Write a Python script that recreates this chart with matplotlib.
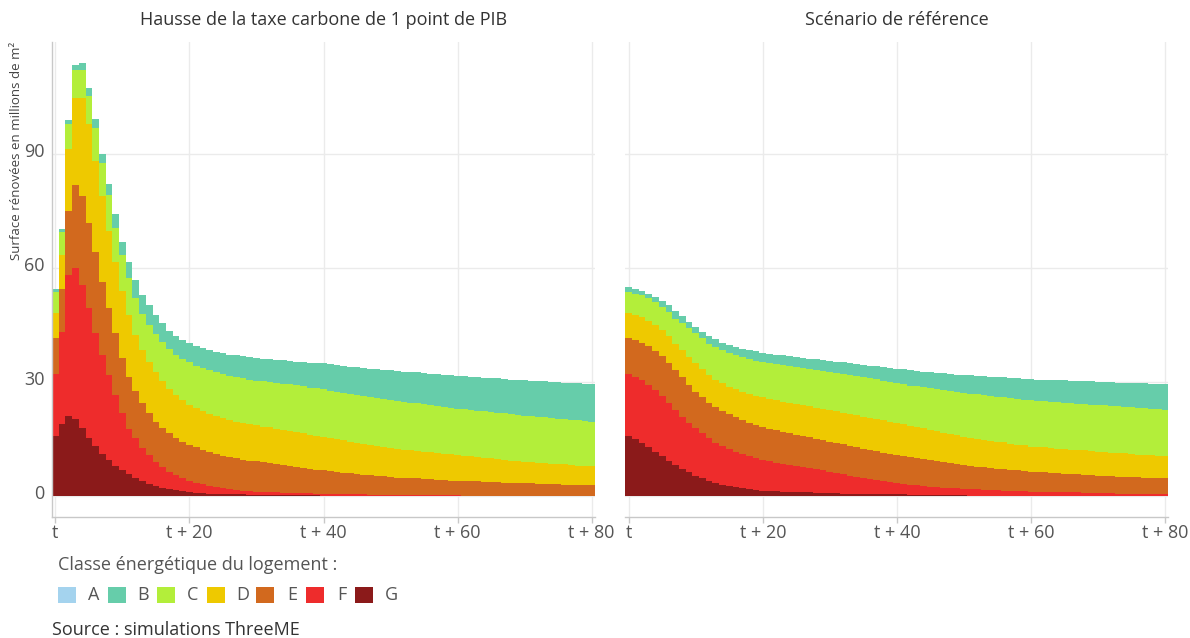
import matplotlib
matplotlib.use('Agg')
import matplotlib.pyplot as plt
from matplotlib.patches import Rectangle
from matplotlib.transforms import ScaledTranslation
import numpy as np

plt.rcParams['font.family'] = ['Open Sans', 'DejaVu Sans']

# ---------------- data ----------------
years = list(range(81))
xtick_pos = [0, 20, 40, 60, 80]
xtick_labels = ['t', 't + 20', 't + 40', 't + 60', 't + 80']
ytick_pos = [0, 30, 60, 90]
classes = ['A', 'B', 'C', 'D', 'E', 'F', 'G']
titles = ['Hausse de la taxe carbone de 1 point de PIB', 'Scénario de référence']

# Scenario 1: carbon tax increase
tax_G = [15.7, 19.0, 21.0, 20.1, 17.8, 15.3, 13.1, 10.9, 9.3, 7.8,
         6.6, 5.8, 4.6, 3.8, 3.0, 2.4, 1.9, 1.6, 1.4, 1.1,
         0.9, 0.7, 0.6, 0.5, 0.5, 0.4, 0.4, 0.3, 0.3, 0.2,
         0.2, 0.15, 0.15, 0.1, 0.1, 0.1, 0.05, 0.05, 0.05, 0.05,
         0, 0, 0, 0, 0, 0, 0, 0, 0, 0,
         0, 0, 0, 0, 0, 0, 0, 0, 0, 0,
         0, 0, 0, 0, 0, 0, 0, 0, 0, 0,
         0, 0, 0, 0, 0, 0, 0, 0, 0, 0,
         0]
tax_F = [16.4, 24.2, 37.3, 39.8, 37.8, 34.3, 29.8, 26.2, 22.5, 18.7,
         15.1, 11.8, 10.7, 8.7, 7.7, 6.5, 5.7, 4.7, 4.0, 3.5,
         3.0, 2.7, 2.4, 2.0, 1.7, 1.5, 1.3, 1.1, 1.0, 0.9,
         0.8, 0.75, 0.7, 0.7, 0.65, 0.6, 0.6, 0.55, 0.5, 0.45,
         0.45, 0.4, 0.4, 0.35, 0.35, 0.3, 0.3, 0.25, 0.2, 0.2,
         0.15, 0.15, 0.1, 0.1, 0.1, 0.1, 0.05, 0.05, 0.05, 0.05,
         0.05, 0, 0, 0, 0, 0, 0, 0, 0, 0,
         0, 0, 0, 0, 0, 0, 0, 0, 0, 0,
         0]
tax_E = [9.4, 11.2, 16.7, 22.0, 23.4, 22.2, 21.4, 19.3, 17.6, 16.3,
         14.5, 13.7, 12.3, 11.8, 11.0, 10.6, 10.1, 10.1, 9.8, 9.6,
         9.5, 9.3, 9.1, 9.0, 8.8, 8.6, 8.4, 8.4, 8.2, 8.1,
         8.0, 7.9, 7.7, 7.5, 7.3, 7.1, 6.9, 6.7, 6.5, 6.3,
         6.2, 6.0, 5.8, 5.7, 5.5, 5.4, 5.2, 5.1, 5.0, 4.9,
         4.8, 4.6, 4.6, 4.5, 4.4, 4.3, 4.2, 4.1, 4.0, 3.9,
         3.8, 3.8, 3.7, 3.7, 3.6, 3.6, 3.5, 3.4, 3.4, 3.3,
         3.2, 3.2, 3.1, 3.1, 3.0, 3.0, 2.9, 2.9, 2.9, 2.8,
         2.8]
tax_D = [6.6, 9.1, 16.3, 23.1, 26.0, 26.2, 24.0, 22.5, 20.5, 18.7,
         17.8, 16.3, 14.7, 14.1, 13.6, 13.0, 12.5, 11.8, 11.3, 10.9,
         10.6, 10.3, 10.1, 10.0, 9.9, 9.9, 9.8, 9.7, 9.6, 9.6,
         9.5, 9.4, 9.4, 9.3, 9.3, 9.2, 9.2, 9.1, 9.0, 9.0,
         8.9, 8.8, 8.7, 8.5, 8.3, 8.2, 8.1, 7.9, 7.8, 7.6,
         7.6, 7.5, 7.4, 7.3, 7.3, 7.2, 7.1, 7.0, 6.9, 6.9,
         6.8, 6.7, 6.6, 6.4, 6.4, 6.2, 6.1, 6.0, 5.8, 5.8,
         5.7, 5.6, 5.6, 5.4, 5.4, 5.3, 5.3, 5.2, 5.0, 5.0,
         4.9]
tax_C = [5.7, 5.9, 6.6, 7.4, 7.4, 7.4, 8.6, 8.9, 9.4, 9.2,
         9.5, 9.9, 9.7, 9.4, 9.7, 10.1, 10.2, 10.4, 10.6, 10.9,
         11.1, 11.3, 11.4, 11.5, 11.6, 11.6, 11.7, 11.7, 11.8, 11.8,
         11.8, 11.9, 12.0, 12.1, 12.2, 12.3, 12.3, 12.4, 12.4, 12.5,
         12.5, 12.5, 12.5, 12.6, 12.6, 12.6, 12.6, 12.7, 12.7, 12.8,
         12.7, 12.7, 12.7, 12.6, 12.5, 12.5, 12.5, 12.4, 12.4, 12.3,
         12.3, 12.3, 12.3, 12.3, 12.2, 12.2, 12.3, 12.3, 12.3, 12.2,
         12.2, 12.2, 12.1, 12.1, 12.1, 12.0, 12.0, 11.9, 11.9, 11.9,
         11.8]
tax_B = [0.8, 0.8, 1.1, 1.2, 1.6, 2.2, 2.4, 2.4, 2.8, 3.5,
         3.5, 4.2, 4.9, 5.1, 5.2, 5.0, 5.0, 4.9, 4.9, 5.0,
         5.1, 5.1, 5.2, 5.4, 5.4, 5.5, 5.6, 5.8, 5.8, 5.9,
         6.0, 6.0, 6.1, 6.1, 6.1, 6.2, 6.3, 6.4, 6.5, 6.6,
         6.8, 6.9, 7.0, 7.1, 7.2, 7.3, 7.5, 7.5, 7.6, 7.7,
         7.8, 7.9, 7.9, 8.1, 8.2, 8.3, 8.3, 8.5, 8.5, 8.6,
         8.6, 8.7, 8.8, 8.8, 8.9, 9.0, 9.0, 9.1, 9.1, 9.2,
         9.3, 9.3, 9.4, 9.5, 9.5, 9.6, 9.6, 9.7, 9.8, 9.8,
         9.9]

# Scenario 2: reference
ref_G = [15.7, 14.8, 13.8, 12.7, 11.6, 10.4, 9.2, 8.0, 7.0, 6.1,
         5.2, 4.5, 3.9, 3.4, 2.9, 2.6, 2.2, 1.9, 1.7, 1.5,
         1.3, 1.2, 1.1, 1.0, 0.9, 0.9, 0.8, 0.8, 0.7, 0.7,
         0.6, 0.6, 0.5, 0.5, 0.5, 0.4, 0.4, 0.4, 0.3, 0.3,
         0.3, 0.3, 0.2, 0.2, 0.2, 0.2, 0.2, 0.1, 0.1, 0.05,
         0.05, 0, 0, 0, 0, 0, 0, 0, 0, 0,
         0, 0, 0, 0, 0, 0, 0, 0, 0, 0,
         0, 0, 0, 0, 0, 0, 0, 0, 0, 0,
         0]
ref_F = [16.4, 16.6, 16.7, 16.5, 16.2, 15.9, 15.3, 14.6, 13.8, 13.1,
         12.5, 11.9, 11.2, 10.5, 10.1, 9.6, 9.3, 9.0, 8.6, 8.3,
         8.1, 7.8, 7.6, 7.4, 7.2, 6.9, 6.7, 6.4, 6.2, 5.9,
         5.7, 5.3, 5.1, 4.7, 4.4, 4.1, 3.9, 3.6, 3.5, 3.3,
         3.0, 2.8, 2.7, 2.5, 2.3, 2.1, 2.0, 2.0, 1.9, 1.8,
         1.7, 1.7, 1.6, 1.5, 1.4, 1.4, 1.3, 1.2, 1.1, 1.1,
         1.0, 1.0, 0.9, 0.9, 0.9, 0.8, 0.8, 0.8, 0.7, 0.7,
         0.6, 0.6, 0.6, 0.5, 0.5, 0.5, 0.4, 0.4, 0.4, 0.3,
         0.3]
ref_E = [9.4, 9.6, 9.8, 10.2, 10.4, 10.5, 10.5, 10.5, 10.4, 10.0,
         9.7, 9.5, 9.4, 9.4, 9.3, 9.2, 9.1, 9.0, 8.9, 8.8,
         8.6, 8.5, 8.5, 8.4, 8.3, 8.2, 8.2, 8.2, 8.1, 8.0,
         7.9, 7.9, 7.9, 7.9, 7.9, 7.9, 7.8, 7.7, 7.5, 7.4,
         7.4, 7.3, 7.3, 7.2, 7.2, 7.1, 6.9, 6.8, 6.6, 6.4,
         6.2, 6.1, 6.0, 5.9, 5.8, 5.7, 5.6, 5.5, 5.5, 5.3,
         5.3, 5.2, 5.2, 5.1, 5.0, 5.0, 4.9, 4.8, 4.8, 4.6,
         4.6, 4.5, 4.5, 4.5, 4.4, 4.3, 4.4, 4.3, 4.2, 4.3,
         4.2]
ref_D = [6.6, 6.6, 6.7, 6.7, 6.8, 6.9, 7.1, 7.0, 7.2, 7.4,
         7.5, 7.4, 7.3, 7.3, 7.3, 7.3, 7.4, 7.5, 7.6, 7.7,
         7.9, 8.0, 8.0, 8.0, 8.1, 8.1, 8.1, 8.1, 8.2, 8.3,
         8.4, 8.4, 8.4, 8.4, 8.4, 8.4, 8.4, 8.4, 8.5, 8.5,
         8.4, 8.4, 8.2, 8.1, 8.0, 7.9, 7.9, 7.7, 7.7, 7.6,
         7.5, 7.4, 7.4, 7.3, 7.3, 7.1, 7.1, 7.0, 6.8, 6.8,
         6.6, 6.6, 6.6, 6.5, 6.5, 6.5, 6.4, 6.4, 6.4, 6.4,
         6.4, 6.4, 6.2, 6.2, 6.2, 6.2, 6.0, 6.0, 6.0, 5.8,
         5.8]
ref_C = [5.7, 5.7, 5.9, 5.9, 6.1, 6.1, 6.4, 6.6, 7.2, 7.5,
         7.9, 8.2, 8.3, 8.7, 8.8, 9.0, 9.1, 9.1, 9.2, 9.3,
         9.3, 9.4, 9.4, 9.6, 9.6, 9.8, 9.8, 9.9, 9.9, 10.0,
         10.0, 10.2, 10.2, 10.4, 10.4, 10.6, 10.5, 10.6, 10.5, 10.5,
         10.5, 10.5, 10.6, 10.8, 10.8, 11.0, 11.0, 11.2, 11.3, 11.4,
         11.6, 11.7, 11.7, 11.8, 11.8, 11.9, 11.9, 12.0, 12.1, 12.1,
         12.3, 12.2, 12.2, 12.2, 12.2, 12.2, 12.2, 12.2, 12.2, 12.3,
         12.3, 12.3, 12.3, 12.3, 12.3, 12.3, 12.3, 12.3, 12.3, 12.4,
         12.3]
ref_B = [1.1, 1.1, 1.1, 1.3, 1.4, 1.6, 1.8, 2.1, 1.8, 1.8,
         1.7, 1.7, 2.0, 1.9, 1.9, 2.0, 2.2, 2.2, 2.4, 2.5,
         2.5, 2.5, 2.6, 2.6, 2.6, 2.6, 2.7, 2.7, 2.8, 2.8,
         2.9, 2.9, 3.0, 3.0, 3.1, 3.1, 3.3, 3.4, 3.6, 3.7,
         3.9, 4.0, 4.1, 4.1, 4.2, 4.2, 4.4, 4.4, 4.4, 4.6,
         4.7, 4.8, 4.9, 5.0, 5.1, 5.2, 5.3, 5.3, 5.4, 5.5,
         5.5, 5.6, 5.7, 5.8, 5.8, 5.9, 6.0, 6.0, 6.0, 6.1,
         6.1, 6.1, 6.3, 6.3, 6.3, 6.4, 6.5, 6.6, 6.6, 6.7,
         6.8]

colors = {'A': '#a4d3ee', 'B': '#66cdaa', 'C': '#b3ee3a', 'D': '#eec900',
          'E': '#d2691e', 'F': '#ee2c2c', 'G': '#8b1a1a'}

scenarios = [
    {'G': tax_G, 'F': tax_F, 'E': tax_E, 'D': tax_D, 'C': tax_C, 'B': tax_B},
    {'G': ref_G, 'F': ref_F, 'E': ref_E, 'D': ref_D, 'C': ref_C, 'B': ref_B},
]

# ---------------- figure ----------------
W, H = 1190, 638
fig = plt.figure(figsize=(W / 100, H / 100), dpi=100)

def fx(px):
    return px / W

def fy(py):
    return 1 - py / H

ax_left_px = [51.7, 625.0]
ax_w_px = 543.3
ax_top_px, ax_bot_px = 42, 517

axes = []
for i, lx in enumerate(ax_left_px):
    ax = fig.add_axes([fx(lx), fy(ax_bot_px), ax_w_px / W, (ax_bot_px - ax_top_px) / H])
    axes.append(ax)
    data = scenarios[i]
    bottom = np.zeros(len(years))
    for cls in ['G', 'F', 'E', 'D', 'C', 'B']:
        vals = np.array(data[cls], dtype=float)
        ax.bar(years, vals, bottom=bottom, width=1.0, color=colors[cls],
               linewidth=0, antialiased=False, zorder=2)
        bottom += vals
    ax.set_xlim(-0.55, 80.5)
    ax.set_ylim(-5.67, 119.66)
    ax.set_xticks(xtick_pos)
    ax.set_xticklabels(xtick_labels)
    ax.set_yticks(ytick_pos)
    ax.grid(True, color='#ebebeb', linewidth=1.0, zorder=0)
    ax.set_axisbelow(True)
    for s in ['top', 'right']:
        ax.spines[s].set_visible(False)
    ax.spines['bottom'].set_color('#c8c8c8')
    ax.spines['bottom'].set_linewidth(1.0)
    ax.tick_params(axis='x', length=4, width=1, color='#c8c8c8',
                   labelsize=13, labelcolor='#555555', pad=1)
    if i == 0:
        ax.spines['left'].set_color('#c8c8c8')
        ax.spines['left'].set_linewidth(1.0)
        ax.tick_params(axis='y', length=0, labelsize=13,
                       labelcolor='#555555', pad=5)
        shift = ScaledTranslation(0, 4 / 100, fig.dpi_scale_trans)
        for lab in ax.get_yticklabels():
            lab.set_transform(lab.get_transform() + shift)
    else:
        ax.spines['left'].set_visible(False)
        ax.tick_params(axis='y', length=0, labelleft=False)
    ax.set_facecolor('white')
    fig.text(fx(lx + ax_w_px / 2), fy(20), titles[i], ha='center', va='center',
             fontsize=13, color='#333333')

fig.text(fx(17), fy(42), 'Surface rénovées en millions de m²', rotation=90,
         ha='center', va='top', fontsize=9.5, color='#444444')

# legend
fig.text(fx(58), fy(565), 'Classe énergétique du logement :', ha='left', va='center',
         fontsize=13, color='#555555')
for i, cls in enumerate(classes):
    x0 = 58 + 49.5 * i
    fig.patches.append(Rectangle((fx(x0), fy(603)), 18 / W, 16 / H,
                                 transform=fig.transFigure, facecolor=colors[cls],
                                 edgecolor='none'))
    fig.text(fx(x0 + 36), fy(595), cls, ha='center', va='center',
             fontsize=13, color='#555555')

fig.text(fx(52), fy(630), 'Source : simulations ThreeME', ha='left', va='center',
         fontsize=13, color='#333333')

fig.savefig('out.png', dpi=100, facecolor='white')
